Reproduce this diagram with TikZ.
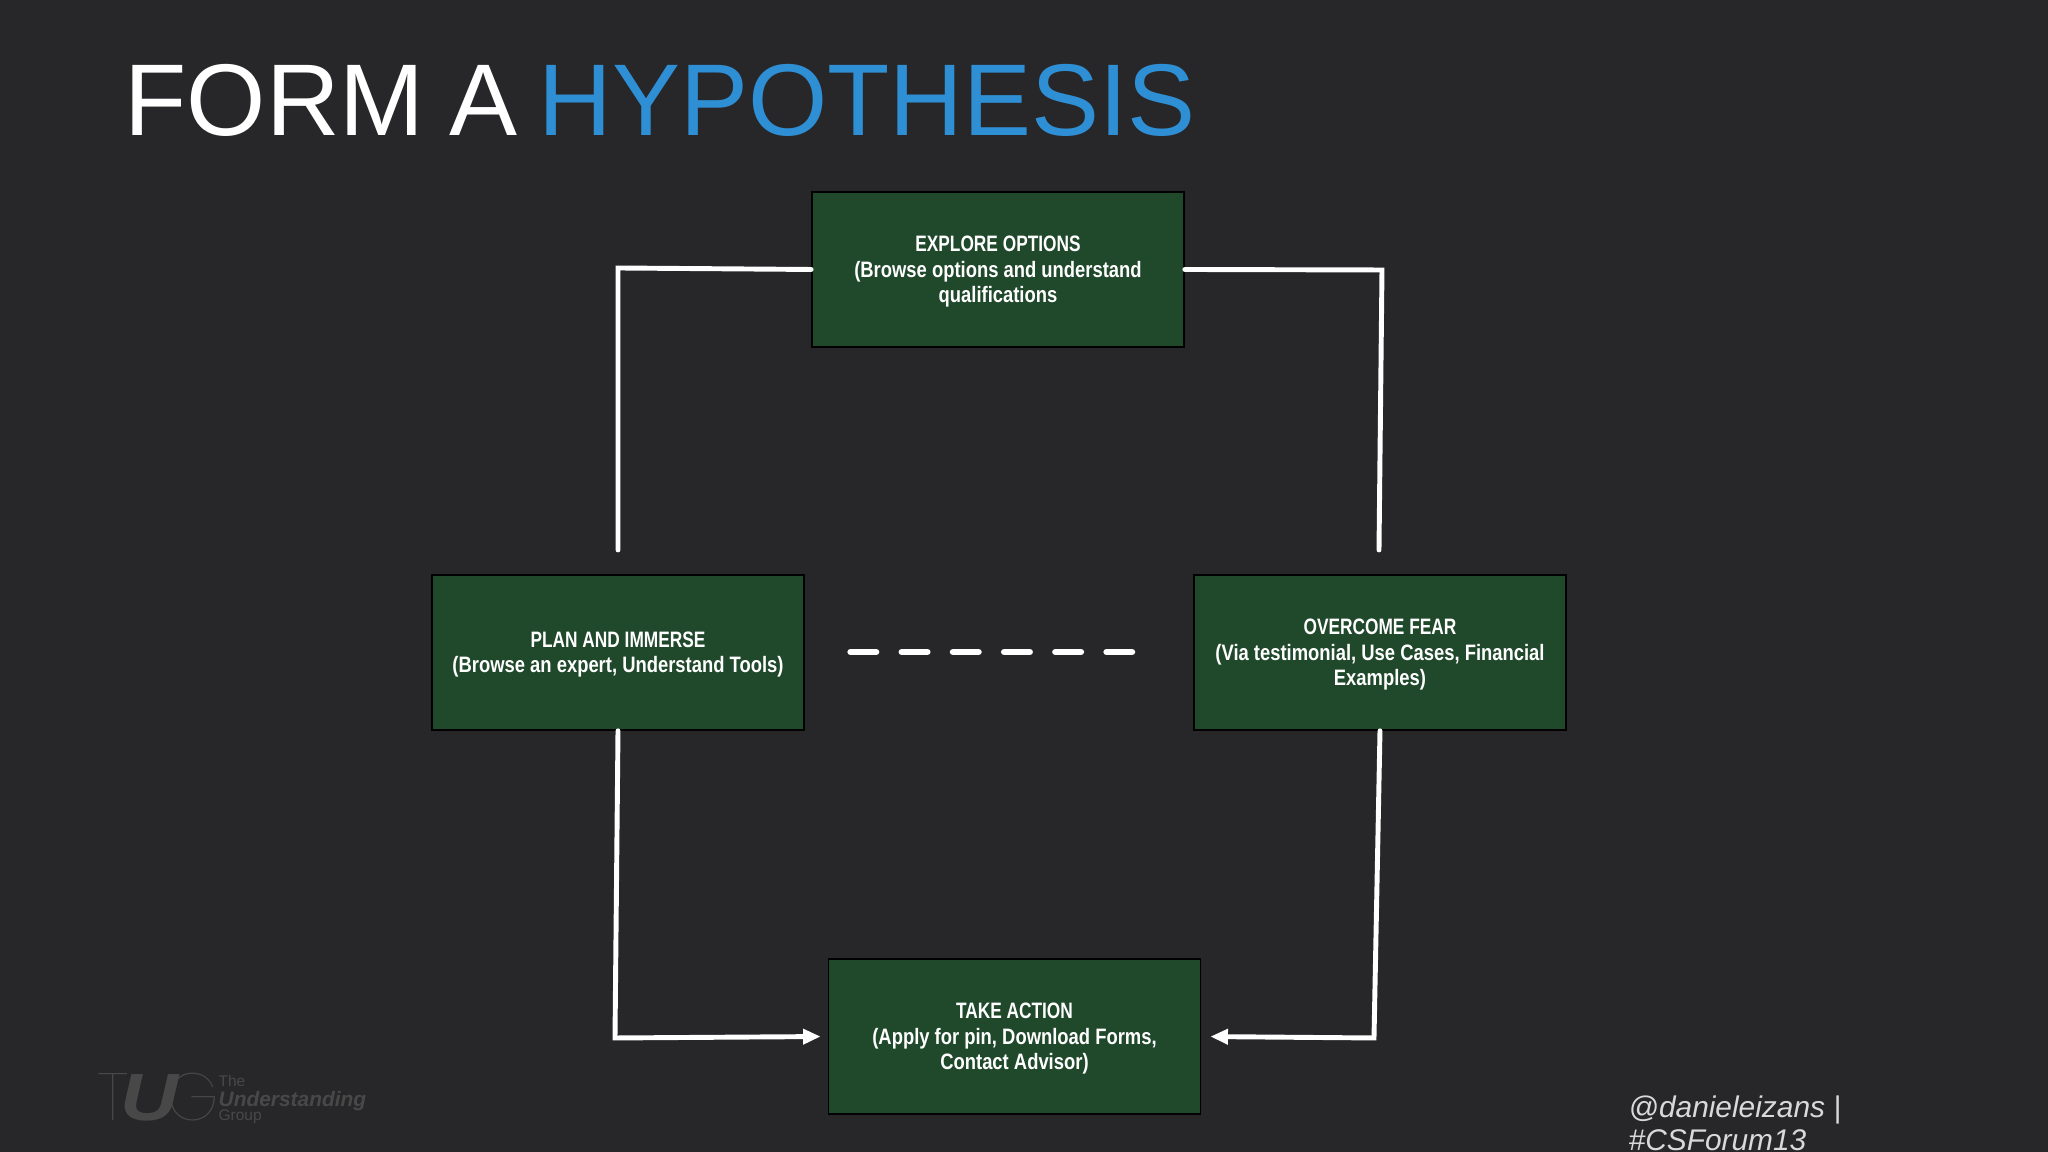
\documentclass[tikz,border=0pt]{standalone}
\usepackage{fontspec}
\setmainfont{Liberation Sans}
\newfontfamily\boxfont[FakeStretch=0.825]{Liberation Sans}
\newfontfamily\headfont[FakeStretch=0.775]{Liberation Sans}
\newfontfamily\thinfont{Poppins Thin}
\newfontfamily\logofont[FakeStretch=1.2]{Liberation Sans}
\usetikzlibrary{arrows.meta}
\definecolor{slidebg}{HTML}{27272A}
\definecolor{boxgreen}{HTML}{20482B}
\definecolor{hypblue}{HTML}{2F8FD5}
\definecolor{logogray}{HTML}{484848}
\newcommand{\boxhead}[1]{{\headfont\bfseries\rule{0pt}{5.6pt}#1}}
\tikzstyle{stepbox} = [draw=black, line width=0.5pt, fill=boxgreen, text=white, minimum width=3.72cm,
    minimum height=1.55cm, align=center, inner sep=0pt,
    font={\boxfont\bfseries\fontsize{6.35}{7.3}\selectfont}]
\tikzstyle{link} = [white, line width=1.4pt, line cap=round, line join=miter]
\tikzstyle{linkhead} = [link, -{Triangle[length=5pt,width=4.2pt]}]
\begin{document}
\begin{tikzpicture}
    \useasboundingbox (0,0) rectangle (20.48,11.52);
    \fill[slidebg] (0,0) rectangle (20.48,11.52);% the slide
    % Title
    \node[anchor=base west, inner sep=0pt, text=white] (title) at (1.24,10.16)
        {\fontsize{29}{32}\selectfont FORM\hspace{-0.04cm} A\hspace{-0.065cm} \textcolor{hypblue}{HYPOTHESIS}};
    % Boxes
    \node[stepbox] (explore) at (9.98,8.825) {\boxhead{EXPLORE OPTIONS}\\(Browse options and understand\\qualifications};
    \node[stepbox] (plan) at (6.18,4.995) {\boxhead{PLAN AND IMMERSE}\\(Browse an expert, Understand Tools)};
    \node[stepbox] (overcome) at (13.80,4.995) {\boxhead{OVERCOME FEAR}\\(Via testimonial, Use Cases, Financial\\Examples)};
    \node[stepbox] (action) at (10.145,1.155) {\boxhead{TAKE ACTION}\\(Apply for pin, Download Forms,\\Contact Advisor)};
    % Free ends and corners
    \coordinate (planup) at (6.18,6.02);
    \coordinate (overup) at (13.79,6.02);
    \coordinate (cornertl) at (6.18,8.84);
    \coordinate (cornertr) at (13.82,8.82);
    \coordinate (cornerbl) at (6.15,1.14);
    \coordinate (cornerbr) at (13.74,1.14);
    \coordinate (dashleft) at (8.506,5.0);
    \coordinate (dashright) at (11.32,5.0);
    % Connectors
    \draw[link] (explore.west) -- (cornertl) -- (planup);
    \draw[link] (explore.east) -- (cornertr) -- (overup);
    \draw[linkhead, shorten >=0.07cm] (plan.south) -- (cornerbl) -- (action.west);
    \draw[linkhead, shorten >=0.09cm] (overcome.south) -- (cornerbr) -- (action.east);
    \draw[white, line width=1.85pt, line cap=round, dash pattern=on 0.255cm off 0.257cm] (dashleft) -- (dashright);% the dashed link
    % Logo
    \node[anchor=base west, inner sep=0pt, text=logogray] (logomark) at (0.97,0.31)
        {\fontsize{19}{19}\selectfont\makebox[0.23cm][l]{\thinfont T}\makebox[0.46cm][l]{\logofont\bfseries\itshape U}{\thinfont G}};
    \node[anchor=base west, inner sep=0pt, text=logogray] (logoname) at (2.18,0.31)
        {\fontsize{4.4}{5}\selectfont\makebox[0pt][l]{\raisebox{0.34cm}{The}}%
        \makebox[0pt][l]{\raisebox{0.14cm}{\fontsize{5.95}{6}\selectfont\bfseries\itshape Understanding}}Group};
    % Handle
    \node[anchor=base west, inner sep=0pt, text=white!85!black] (handlea) at (16.28,0.34)
        {\fontsize{8.5}{9}\selectfont\itshape @danieleizans |};
    \node[anchor=base west, inner sep=0pt, text=white!85!black] (handleb) at (16.28,0.01)
        {\fontsize{8.5}{9}\selectfont\itshape \#CSForum13};
\end{tikzpicture}
\end{document}
